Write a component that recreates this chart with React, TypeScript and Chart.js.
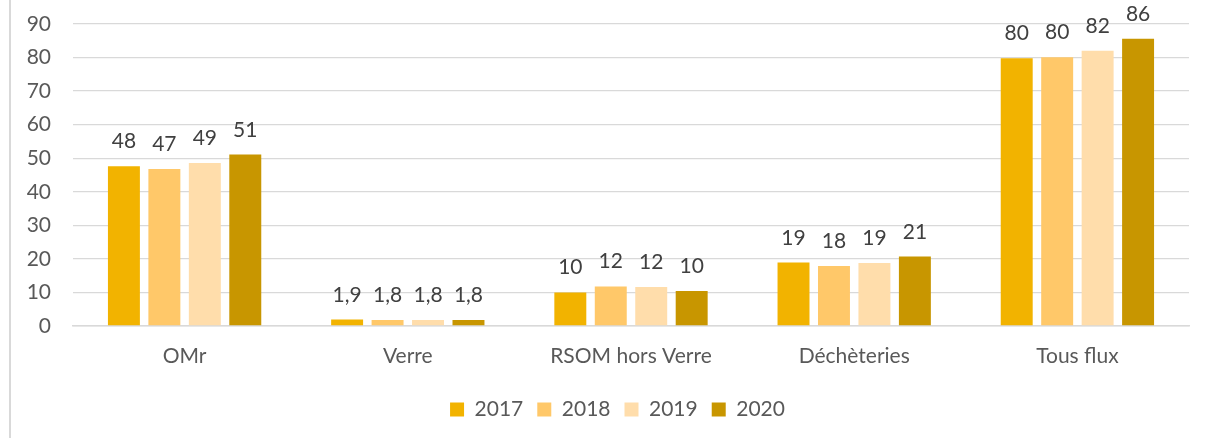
import React, { useEffect, useRef } from "react";
import { Chart, registerables } from "chart.js";

Chart.register(...registerables);

const categories = ["OMr", "Verre", "RSOM hors Verre", "Déchèteries", "Tous flux"];
const years = ["2017", "2018", "2019", "2020"];
const values2017 = [47.6, 1.9, 10.0, 18.9, 79.8];
const values2018 = [46.8, 1.8, 11.8, 17.9, 80.1];
const values2019 = [48.6, 1.8, 11.6, 18.8, 82.0];
const values2020 = [51.1, 1.8, 10.4, 20.7, 85.6];
const yTicks = [0, 10, 20, 30, 40, 50, 60, 70, 80, 90];
const colors = ["#F2B300", "#FFC869", "#FFDDAB", "#C89600"];

const FONT = "Lato, 'Open Sans', sans-serif";
const FS = 21;

const fmt = (v: number) =>
  v < 5
    ? v.toLocaleString("fr-FR", { minimumFractionDigits: 1, maximumFractionDigits: 1 })
    : String(Math.round(v));

const dataLabels = {
  id: "dataLabels",
  afterDatasetsDraw(chart: any) {
    const ctx = chart.ctx;
    ctx.save();
    ctx.font = `${FS}px ${FONT}`;
    ctx.fillStyle = "#404040";
    ctx.textAlign = "center";
    ctx.textBaseline = "alphabetic";
    chart.data.datasets.forEach((ds: any, i: number) => {
      const meta = chart.getDatasetMeta(i);
      meta.data.forEach((el: any, j: number) => {
        ctx.fillText(fmt(ds.data[j]), el.x, el.y - 18);
      });
    });
    ctx.restore();
  },
};

const legendShift = {
  id: "legendShift",
  afterLayout(chart: any) {
    const lg = chart.legend;
    if (lg) {
      lg.left += 18;
      lg.right += 18;
    }
  },
};

export default function App() {
  const ref = useRef<HTMLCanvasElement | null>(null);
  useEffect(() => {
    if (!ref.current) return;
    const series = [values2017, values2018, values2019, values2020];
    const chart = new Chart(ref.current, {
      type: "bar",
      data: {
        labels: categories,
        datasets: years.map((y, i) => ({
          label: y,
          data: series[i],
          backgroundColor: colors[i],
          categoryPercentage: 0.725,
          barPercentage: 0.79,
        })),
      },
      options: {
        animation: false,
        responsive: false,
        maintainAspectRatio: false,
        layout: { padding: { left: 10, right: 19, top: 24, bottom: 8 } },
        scales: {
          y: {
            min: 0,
            max: 90,
            afterBuildTicks: (scale: any) => {
              scale.ticks = yTicks.map((v) => ({ value: v }));
            },
            afterFit: (scale: any) => {
              scale.width = 63;
              scale.paddingTop = 0;
              scale.paddingBottom = 0;
            },
            grid: { color: "#d9d9d9", lineWidth: 1.3, drawTicks: false },
            border: { display: false },
            ticks: {
              padding: 22,
              color: "#595959",
              font: { family: FONT, size: FS },
            },
          },
          x: {
            grid: { display: false },
            border: { display: true, color: "#d9d9d9", width: 1.5 },
            afterFit: (scale: any) => {
              scale.height = 59;
            },
            ticks: {
              padding: 10,
              color: "#595959",
              font: { family: FONT, size: FS },
            },
          },
        },
        plugins: {
          legend: {
            position: "bottom",
            labels: {
              boxWidth: 14,
              boxHeight: 14,
              padding: 14,
              color: "#595959",
              font: { family: FONT, size: FS },
            },
          },
          tooltip: { enabled: false },
        },
      },
      plugins: [dataLabels, legendShift],
    });
    return () => chart.destroy();
  }, []);
  return (
    <div style={{ position: "fixed", left: 0, top: 0, width: 1208, height: 438, background: "#fff" }}>
      <div style={{ position: "absolute", left: 9, top: 0, width: 0, height: 438, borderLeft: "2px solid #d9d9d9" }} />
      <canvas ref={ref} width={1208} height={438} style={{ position: "absolute", left: 0, top: 0 }} />
    </div>
  );
}
